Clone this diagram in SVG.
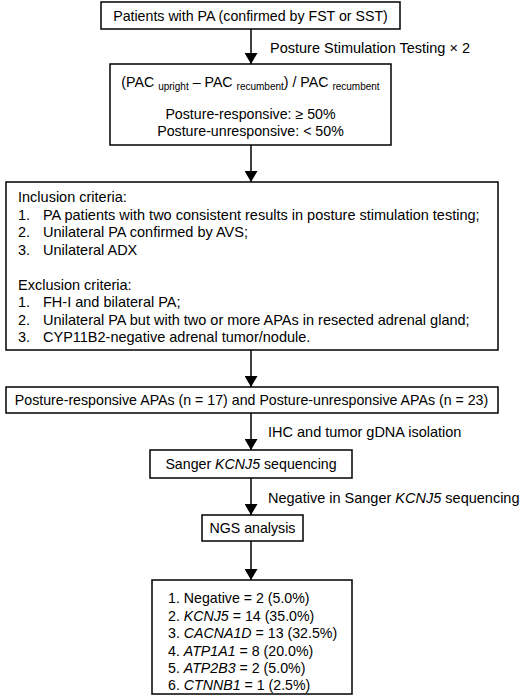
<svg xmlns="http://www.w3.org/2000/svg" width="520" height="696" viewBox="0 0 520 696">
<style>
.box{fill:#fff;stroke:#000;stroke-width:1.5}
text{font-family:"Liberation Sans",Arial,sans-serif;font-size:14.2px;fill:#000}
.c{text-anchor:middle}
.sub{font-size:10px}
.i{font-style:italic}
.w{font-size:14.5px}
.conn{stroke:#000;stroke-width:1.5;fill:none}
</style>
<defs>
<marker id="ah" markerUnits="userSpaceOnUse" markerWidth="14" markerHeight="13" refX="11" refY="6.5" orient="auto">
<path d="M0,0 L11,6.5 L0,13 Z" fill="#000"/>
</marker>
</defs>
<rect width="520" height="696" fill="#fff"/>
<g id="connectors">
<line class="conn" x1="251" y1="29" x2="251" y2="64" marker-end="url(#ah)"/>
<line class="conn" x1="251" y1="145" x2="251" y2="182" marker-end="url(#ah)"/>
<line class="conn" x1="251" y1="350" x2="251" y2="387" marker-end="url(#ah)"/>
<line class="conn" x1="251" y1="413" x2="251" y2="450" marker-end="url(#ah)"/>
<line class="conn" x1="251" y1="478" x2="251" y2="515" marker-end="url(#ah)"/>
<line class="conn" x1="251" y1="541" x2="251" y2="580" marker-end="url(#ah)"/>
<text class="w" x="270" y="53">Posture Stimulation Testing × 2</text>
<text class="w" x="268" y="437">IHC and tumor gDNA isolation</text>
<text class="w" x="268" y="503">Negative in Sanger <tspan class="i">KCNJ5</tspan> sequencing</text>
</g>
<g id="node1">
<rect class="box" x="101" y="2" width="299" height="27"/>
<text class="c" x="250.5" y="21">Patients with PA (confirmed by FST or SST)</text>
</g>
<g id="node2">
<rect class="box" x="110" y="64" width="281" height="81"/>
<text class="c" x="250.5" y="87">(PAC <tspan class="sub" dy="3">upright</tspan><tspan dy="-3"> – PAC </tspan><tspan class="sub" dy="3">recumbent</tspan><tspan dy="-3">) / PAC </tspan><tspan class="sub" dy="3">recumbent</tspan></text>
<text class="c" x="250.5" y="119">Posture-responsive: ≥ 50%</text>
<text class="c" x="250.5" y="136">Posture-unresponsive: &lt; 50%</text>
</g>
<g id="node3" class="w">
<rect class="box" x="6" y="182" width="492" height="168"/>
<text class="w" x="18" y="202">Inclusion criteria:</text>
<text class="w" x="18" y="219.5">1.</text><text class="w" x="43" y="219.5">PA patients with two consistent results in posture stimulation testing;</text>
<text class="w" x="18" y="237">2.</text><text class="w" x="43" y="237">Unilateral PA confirmed by AVS;</text>
<text class="w" x="18" y="254.5">3.</text><text class="w" x="43" y="254.5">Unilateral ADX</text>
<text class="w" x="18" y="289.5">Exclusion criteria:</text>
<text class="w" x="18" y="307">1.</text><text class="w" x="43" y="307">FH-I and bilateral PA;</text>
<text class="w" x="18" y="324.5">2.</text><text class="w" x="43" y="324.5">Unilateral PA but with two or more APAs in resected adrenal gland;</text>
<text class="w" x="18" y="342">3.</text><text class="w" x="43" y="342">CYP11B2-negative adrenal tumor/nodule.</text>
</g>
<g id="node4">
<rect class="box" x="6" y="387" width="492" height="26"/>
<text class="c" x="251.5" y="405">Posture-responsive APAs (n = 17) and Posture-unresponsive APAs (n = 23)</text>
</g>
<g id="node5">
<rect class="box" x="150" y="450" width="202" height="28"/>
<text class="c" x="251" y="469">Sanger <tspan class="i">KCNJ5</tspan> sequencing</text>
</g>
<g id="node6">
<rect class="box" x="202" y="515" width="101" height="26"/>
<text class="c" x="252.5" y="533">NGS analysis</text>
</g>
<g id="node7">
<rect class="box" x="152" y="580" width="200" height="114"/>
<text x="168" y="603">1. Negative = 2 (5.0%)</text>
<text x="168" y="620.5">2. <tspan class="i">KCNJ5</tspan> = 14 (35.0%)</text>
<text x="168" y="638">3. <tspan class="i">CACNA1D</tspan> = 13 (32.5%)</text>
<text x="168" y="655.5">4. <tspan class="i">ATP1A1</tspan> = 8 (20.0%)</text>
<text x="168" y="673">5. <tspan class="i">ATP2B3</tspan> = 2 (5.0%)</text>
<text x="168" y="690">6. <tspan class="i">CTNNB1</tspan> = 1 (2.5%)</text>
</g>
</svg>
